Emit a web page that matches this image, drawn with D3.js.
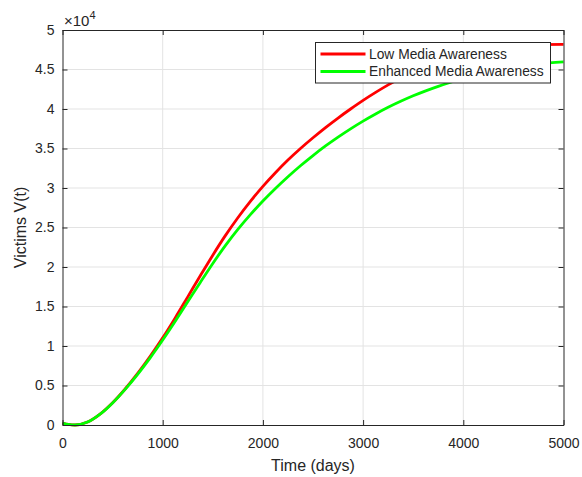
<!DOCTYPE html>
<html>
<head>
  <meta charset="utf-8" />
  <title>Victims V(t)</title>
  <script src="https://d3js.org/d3.v7.min.js"></script>
  <style>
    body { margin: 0; background: #fff; }
    svg text { font-family: "Liberation Sans", Arial, Helvetica, sans-serif; fill: #262626; }
    .grid line { stroke: #e3e3e3; stroke-width: 1px; }
  </style>
</head>
<body>
  <div id="chart"></div>

  <script>
    // time in days (shared by both series)
    const days = [0, 60, 125, 250, 375, 500, 625, 750, 875, 1000, 1125, 1250, 1375, 1500,
      1625, 1750, 1875, 2000, 2125, 2250, 2375, 2500, 2625, 2750, 2875, 3000, 3125, 3250,
      3375, 3500, 3625, 3750, 3875, 4000, 4250, 4500, 4750, 5000];

    // victims, low media awareness
    const lowAwareness = [250, 70, 0, 375, 1375, 2810, 4560, 6530, 8690, 11030, 13560, 16220, 18890, 21500,
      23970, 26240, 28310, 30210, 31940, 33540, 35000, 36360, 37650, 38860, 40000, 41090, 42100, 43050,
      43930, 44720, 45430, 46050, 46580, 47030, 47680, 48020, 48150, 48180];

    // victims, enhanced media awareness
    const enhancedAwareness = [250, 70, 0, 375, 1375, 2800, 4510, 6420, 8500, 10750, 13130, 15590, 18050, 20450,
      22700, 24760, 26630, 28350, 29940, 31430, 32820, 34110, 35320, 36440, 37490, 38470, 39370, 40210,
      40970, 41670, 42300, 42870, 43390, 43860, 44680, 45320, 45730, 45960];

    const seriesNames = ["Low Media Awareness", "Enhanced Media Awareness"];
    const seriesColors = ["#ff0000", "#00ff00"];

    const xTicks = [0, 1000, 2000, 3000, 4000, 5000];
    const yTicks = [0, 5000, 10000, 15000, 20000, 25000, 30000, 35000, 40000, 45000, 50000];
    const yTickLabels = ["0", "0.5", "1", "1.5", "2", "2.5", "3", "3.5", "4", "4.5", "5"];

    const width = 582;
    const height = 477;
    const marginLeft = 62.5;
    const marginRight = 18.5;
    const marginTop = 30;
    const marginBottom = 52;

    const svg = d3.select("#chart")
      .append("svg")
      .attr("width", width)
      .attr("height", height)
      .attr("viewBox", [0, 0, width, height]);

    const x = d3.scaleLinear()
      .domain([0, 5000])
      .range([marginLeft, width - marginRight]);

    const y = d3.scaleLinear()
      .domain([0, 50000])
      .range([height - marginBottom, marginTop]);

    // grid
    const grid = svg.append("g").attr("class", "grid");
    grid.selectAll(".gx")
      .data(xTicks.slice(1, -1))
      .join("line")
      .attr("x1", d => x(d)).attr("x2", d => x(d))
      .attr("y1", y(0)).attr("y2", y(50000));
    grid.selectAll(".gy")
      .data(yTicks.slice(1, -1))
      .join("line")
      .attr("x1", x(0)).attr("x2", x(5000))
      .attr("y1", d => y(d)).attr("y2", d => y(d));

    // curves
    const series = [lowAwareness, enhancedAwareness];
    const line = d3.line()
      .x((d, i) => x(days[i]))
      .y(d => y(d))
      .curve(d3.curveMonotoneX);

    series.forEach((vals, k) => {
      svg.append("path")
        .datum(vals)
        .attr("fill", "none")
        .attr("stroke", seriesColors[k])
        .attr("stroke-width", 2.8)
        .attr("d", line);
    });

    // axes, ticks inward on all four sides
    const fmtY = d => yTickLabels[yTicks.indexOf(d)];

    const styleAxis = g => {
      g.selectAll(".domain").attr("stroke", "#262626").attr("stroke-width", 1);
      g.selectAll(".tick line").attr("stroke", "#262626");
      g.selectAll("text").attr("font-size", 14).attr("fill", "#262626");
    };

    svg.append("g")
      .attr("transform", `translate(0,${y(0)})`)
      .call(d3.axisBottom(x).tickValues(xTicks).tickFormat(d3.format("d")).tickSize(-5).tickSizeOuter(0).tickPadding(13))
      .call(styleAxis);

    svg.append("g")
      .attr("transform", `translate(0,${y(50000)})`)
      .call(d3.axisTop(x).tickValues(xTicks).tickSize(-5).tickSizeOuter(0).tickFormat(""))
      .call(styleAxis);

    svg.append("g")
      .attr("transform", `translate(${x(0)},0)`)
      .call(d3.axisLeft(y).tickValues(yTicks).tickFormat(fmtY).tickSize(-5).tickSizeOuter(0).tickPadding(8))
      .call(styleAxis);

    svg.append("g")
      .attr("transform", `translate(${x(5000)},0)`)
      .call(d3.axisRight(y).tickValues(yTicks).tickSize(-5).tickSizeOuter(0).tickFormat(""))
      .call(styleAxis);

    svg.selectAll("text").attr("font-family", null);

    // exponent label
    const expo = svg.append("text")
      .attr("x", 64)
      .attr("y", 26)
      .attr("font-size", 15);
    expo.append("tspan").text("\u00d710");
    expo.append("tspan").attr("dy", -7).attr("font-size", 11).text("4");

    // axis labels
    svg.append("text")
      .attr("x", (x(0) + x(5000)) / 2)
      .attr("y", 471)
      .attr("text-anchor", "middle")
      .attr("font-size", 16)
      .text("Time (days)");

    svg.append("text")
      .attr("transform", `translate(26,${(y(0) + y(50000)) / 2}) rotate(-90)`)
      .attr("text-anchor", "middle")
      .attr("font-size", 16)
      .text("Victims V(t)");

    // legend
    const legend = svg.append("g").attr("transform", "translate(315.5,42.5)");
    legend.append("rect")
      .attr("width", 235)
      .attr("height", 40.5)
      .attr("fill", "#fff")
      .attr("stroke", "#262626")
      .attr("stroke-width", 1);

    seriesNames.forEach((name, k) => {
      const row = legend.append("g").attr("transform", `translate(0,${11.5 + k * 17.5})`);
      row.append("line")
        .attr("x1", 5).attr("x2", 50)
        .attr("stroke", seriesColors[k])
        .attr("stroke-width", 2.8);
      row.append("text")
        .attr("x", 53.5)
        .attr("dy", "0.35em")
        .attr("font-size", 13.8)
        .text(name);
    });
  </script>
</body>
</html>
